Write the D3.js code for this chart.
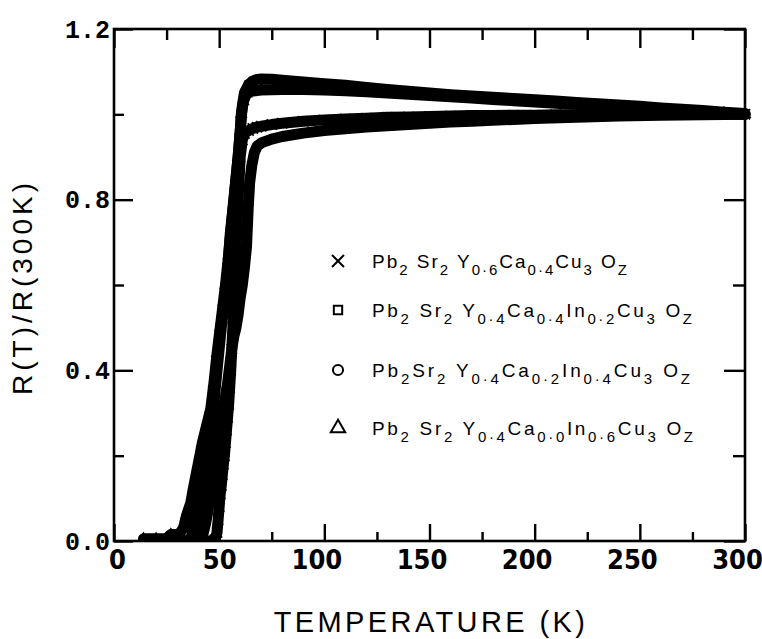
<!DOCTYPE html>
<html>
<head>
<meta charset="utf-8">
<script src="https://cdn.jsdelivr.net/npm/d3@7"></script>
<style>
  body { margin: 0; background: #fff; }
  svg { display: block; }
</style>
</head>
<body>
<script>
'use strict';

// temperature (K) and R(T)/R(300K)

// x : Pb2Sr2Y0.6Ca0.4Cu3Oz
const tempY6Ca4 = [30, 40, 46, 48, 49, 49.5, 50, 50.5, 51, 51.5, 52, 52.5, 53, 53.5, 54, 54.5, 55, 55.5, 56, 56.5,
  57, 57.5, 58, 58.5, 59, 59.5, 60, 61, 62, 64, 66, 68, 70, 75, 80, 90, 100, 110, 120, 130,
  140, 150, 160, 170, 180, 190, 200, 210, 220, 230, 240, 250, 260, 270, 280, 290, 300];
const resY6Ca4 = [0, 0, 0, 0.003, 0.02, 0.05, 0.08, 0.11, 0.13, 0.155, 0.18, 0.2, 0.23, 0.26, 0.29, 0.32, 0.36, 0.4, 0.45, 0.5,
  0.56, 0.62, 0.68, 0.74, 0.8, 0.85, 0.9, 0.94, 0.955, 0.962, 0.967, 0.97, 0.972, 0.976, 0.979, 0.984, 0.987, 0.989, 0.991, 0.993,
  0.994, 0.995, 0.996, 0.997, 0.997, 0.998, 0.998, 0.999, 0.999, 1.0, 1.0, 1.0, 1.0, 1.0, 1.0, 1.0, 1.0];

// square : Pb2Sr2Y0.4Ca0.4In0.2Cu3Oz
const tempIn2 = [30, 36, 37.5, 39, 40.5, 42, 43.5, 45, 46, 47, 48, 49, 50, 51, 52, 53, 54, 55, 56, 57,
  58, 59, 60, 61, 62, 64, 66, 68, 70, 75, 80, 90, 100, 110, 120, 130, 140, 150, 160, 170,
  180, 190, 200, 210, 220, 230, 240, 250, 260, 270, 280, 290, 300];
const resIn2 = [0, 0, 0.02, 0.05, 0.09, 0.13, 0.17, 0.21, 0.25, 0.3, 0.35, 0.4, 0.45, 0.5, 0.54, 0.58, 0.63, 0.7, 0.75, 0.8,
  0.85, 0.9, 0.96, 1.02, 1.05, 1.07, 1.078, 1.082, 1.083, 1.082, 1.08, 1.076, 1.072, 1.068, 1.063, 1.058, 1.054, 1.05, 1.046, 1.043,
  1.04, 1.037, 1.034, 1.031, 1.028, 1.025, 1.022, 1.019, 1.015, 1.012, 1.009, 1.005, 1.002];

// circle : Pb2Sr2Y0.4Ca0.2In0.4Cu3Oz
const tempIn4 = [30, 40, 42, 43.5, 45, 46.5, 48, 50, 52, 54, 55, 56, 57, 58, 59, 60, 61, 62, 63, 63.8,
  64.5, 65.5, 66.7, 68, 70, 75, 80, 90, 100, 110, 120, 130, 140, 150, 160, 170, 180, 190, 200, 220,
  240, 260, 280, 300];
const resIn4 = [0, 0, 0.01, 0.04, 0.08, 0.13, 0.18, 0.25, 0.31, 0.37, 0.41, 0.45, 0.48, 0.5, 0.53, 0.57, 0.6, 0.64, 0.69, 0.78,
  0.84, 0.88, 0.91, 0.925, 0.933, 0.942, 0.948, 0.956, 0.962, 0.966, 0.97, 0.973, 0.976, 0.979, 0.982, 0.984, 0.986, 0.988, 0.99, 0.993,
  0.996, 0.998, 0.999, 1.0];

// triangle : Pb2Sr2Y0.4Ca0.0In0.6Cu3Oz
const tempIn6 = [14, 20, 25, 27, 31, 33, 34.5, 36.5, 38, 40, 42, 44, 46, 47.5, 49, 50.5, 52, 53, 54.5, 55.5,
  57, 58, 59, 60, 60.5, 61.5, 63, 65, 68, 70, 80, 90, 100, 110, 120, 130, 140, 150, 160, 170,
  180, 190, 200, 210, 220, 230, 240, 250, 260, 270, 280, 290, 300];
const resIn6 = [0.005, 0.005, 0.006, 0.015, 0.016, 0.03, 0.06, 0.09, 0.13, 0.18, 0.23, 0.27, 0.31, 0.37, 0.44, 0.5, 0.56, 0.6, 0.67, 0.73,
  0.8, 0.85, 0.9, 0.96, 1.0, 1.03, 1.048, 1.054, 1.056, 1.057, 1.058, 1.058, 1.057, 1.055, 1.053, 1.05, 1.047, 1.044, 1.041, 1.038,
  1.035, 1.032, 1.029, 1.026, 1.023, 1.02, 1.017, 1.014, 1.011, 1.008, 1.005, 1.003, 1.0];

const xTicks = [0, 50, 100, 150, 200, 250, 300];
const xMinorTicks = [25, 75, 125, 175, 225, 275];
const yTicks = [0, 0.4, 0.8, 1.2];
const yMinorTicks = [0.2, 0.6, 1.0];

// legend text as [text, isSubscript] pieces
const legendLabels = [
  [['Pb', 0], ['2', 1], [' Sr', 0], ['2', 1], [' Y', 0], ['0·6', 1], ['Ca', 0], ['0·4', 1], ['Cu', 0], ['3', 1], [' O', 0], ['Z', 1]],
  [['Pb', 0], ['2', 1], [' Sr', 0], ['2', 1], [' Y', 0], ['0·4', 1], ['Ca', 0], ['0·4', 1], ['In', 0], ['0·2', 1], ['Cu', 0], ['3', 1], [' O', 0], ['Z', 1]],
  [['Pb', 0], ['2', 1], ['Sr', 0], ['2', 1], [' Y', 0], ['0·4', 1], ['Ca', 0], ['0·2', 1], ['In', 0], ['0·4', 1], ['Cu', 0], ['3', 1], [' O', 0], ['Z', 1]],
  [['Pb', 0], ['2', 1], [' Sr', 0], ['2', 1], [' Y', 0], ['0·4', 1], ['Ca', 0], ['0·0', 1], ['In', 0], ['0·6', 1], ['Cu', 0], ['3', 1], [' O', 0], ['Z', 1]]
];

const width = 762, height = 639;

const svg = d3.select('body').append('svg')
  .attr('width', width)
  .attr('height', height);

const x = d3.scaleLinear().domain([0, 300]).range([114, 745]);
const y = d3.scaleLinear().domain([0, 1.2]).range([541, 29]);

const timesSym = d3.symbolTimes || d3.symbolX;
const series = [
  { temp: tempY6Ca4, res: resY6Ca4, symbol: timesSym, size: 70, legendSize: 95 },
  { temp: tempIn2, res: resIn2, symbol: d3.symbolSquare, size: 44, legendSize: 70 },
  { temp: tempIn4, res: resIn4, symbol: d3.symbolCircle, size: 38, legendSize: 80 },
  { temp: tempIn6, res: resIn6, symbol: d3.symbolTriangle, size: 40, legendSize: 90 }
];

// clip data at the x axis
svg.append('clipPath').attr('id', 'clip')
  .append('rect').attr('x', 100).attr('y', 0).attr('width', 652).attr('height', 541);

const plot = svg.append('g').attr('clip-path', 'url(#clip)');

const line = d3.line()
  .x(d => x(d[0]))
  .y(d => y(d[1]));

// dense measurement points show up as a thick black band
series.forEach(s => {
  const pts = s.temp.map((t, i) => [t, s.res[i]]);
  plot.append('path')
    .datum(pts)
    .attr('d', line)
    .attr('fill', 'none')
    .attr('stroke', '#000')
    .attr('stroke-width', 11)
    .attr('stroke-linejoin', 'round')
    .attr('stroke-linecap', 'round');
});

series.forEach(s => {
  const pts = s.temp.map((t, i) => [t, s.res[i]]);
  plot.selectAll(null)
    .data(pts)
    .enter()
    .append('path')
      .attr('transform', d => 'translate(' + x(d[0]) + ',' + y(d[1]) + ')')
      .attr('d', d3.symbol().type(s.symbol).size(s.size))
      .attr('fill', 'none')
      .attr('stroke', '#000')
      .attr('stroke-width', 1.8);
});

// frame
svg.append('rect')
  .attr('x', x(0)).attr('y', y(1.2))
  .attr('width', x(300) - x(0)).attr('height', y(0) - y(1.2))
  .attr('fill', 'none').attr('stroke', '#000').attr('stroke-width', 2.6);

function styleAxis(g) {
  g.select('.domain').remove();
  g.selectAll('.tick line').attr('stroke', '#000').attr('stroke-width', 2.4);
}

// bottom axis with labels
const xAxisG = svg.append('g')
  .attr('transform', 'translate(0,' + y(0) + ')')
  .call(d3.axisBottom(x).tickValues(xTicks).tickSize(-17).tickPadding(9).tickFormat(d3.format('d')))
  .call(styleAxis);
xAxisG.selectAll('.tick text')
  .attr('fill', '#000')
  .attr('dx', d => d >= 100 ? -8 : (d === 0 ? 3 : 0))
  .style('font-family', '"Liberation Sans Narrow", "DejaVu Sans Condensed", "Liberation Sans", sans-serif')
  .style('font-weight', 'bold')
  .style('font-size', '27px');

svg.append('g')
  .attr('transform', 'translate(0,' + y(0) + ')')
  .call(d3.axisBottom(x).tickValues(xMinorTicks).tickSize(-9).tickFormat(''))
  .call(styleAxis);

// top axis
svg.append('g')
  .attr('transform', 'translate(0,' + y(1.2) + ')')
  .call(d3.axisTop(x).tickValues(xTicks).tickSize(-19).tickFormat(''))
  .call(styleAxis);
svg.append('g')
  .attr('transform', 'translate(0,' + y(1.2) + ')')
  .call(d3.axisTop(x).tickValues(xMinorTicks).tickSize(-11).tickFormat(''))
  .call(styleAxis);

// left axis with labels
const yAxisG = svg.append('g')
  .attr('transform', 'translate(' + x(0) + ',0)')
  .call(d3.axisLeft(y).tickValues(yTicks).tickSize(-19).tickPadding(4).tickFormat(d3.format('.1f')))
  .call(styleAxis);
yAxisG.selectAll('.tick text')
  .attr('fill', '#000')
  .style('font-family', '"Liberation Mono", "DejaVu Sans Mono", monospace')
  .style('font-weight', 'bold')
  .style('font-size', '25px');

svg.append('g')
  .attr('transform', 'translate(' + x(0) + ',0)')
  .call(d3.axisLeft(y).tickValues(yMinorTicks).tickSize(-10).tickFormat(''))
  .call(styleAxis);

// right axis
svg.append('g')
  .attr('transform', 'translate(' + x(300) + ',0)')
  .call(d3.axisRight(y).tickValues(yTicks).tickSize(-21).tickFormat(''))
  .call(styleAxis);
svg.append('g')
  .attr('transform', 'translate(' + x(300) + ',0)')
  .call(d3.axisRight(y).tickValues(yMinorTicks).tickSize(-12).tickFormat(''))
  .call(styleAxis);

// axis titles
svg.append('text')
  .attr('x', 431)
  .attr('y', 632)
  .attr('text-anchor', 'middle')
  .style('font-family', '"Liberation Sans", Arial, sans-serif')
  .style('font-size', '29px')
  .style('letter-spacing', '3.4px')
  .text('TEMPERATURE (K)');

svg.append('text')
  .attr('transform', 'translate(32,287)rotate(-90)')
  .attr('text-anchor', 'middle')
  .style('font-family', '"Liberation Sans", Arial, sans-serif')
  .style('font-size', '28px')
  .style('letter-spacing', '4px')
  .text('R(T)/R(300K)');

// legend
const legendX = 338;
const legendBase = [268, 317, 377, 435];
const legendWidth = [255, 320, 318, 321];

legendLabels.forEach((parts, i) => {
  const s = series[i];
  svg.append('path')
    .attr('transform', 'translate(' + legendX + ',' + (legendBase[i] - 7) + ')')
    .attr('d', d3.symbol().type(s.symbol).size(s.legendSize))
    .attr('fill', 'none')
    .attr('stroke', '#000')
    .attr('stroke-width', 2);

  const txt = svg.append('text')
    .attr('x', 372)
    .attr('y', legendBase[i])
    .attr('textLength', legendWidth[i])
    .attr('lengthAdjust', 'spacing')
    .style('font-family', '"Liberation Sans", Arial, sans-serif')
    .style('white-space', 'pre');

  let shifted = false;
  parts.forEach(p => {
    const sub = p[1] === 1;
    let dy = 0;
    if (sub && !shifted) { dy = 7; shifted = true; }
    if (!sub && shifted) { dy = -7; shifted = false; }
    txt.append('tspan')
      .attr('dy', dy)
      .style('font-size', sub ? '15px' : '19px')
      .text(p[0]);
  });
});
</script>
</body>
</html>
